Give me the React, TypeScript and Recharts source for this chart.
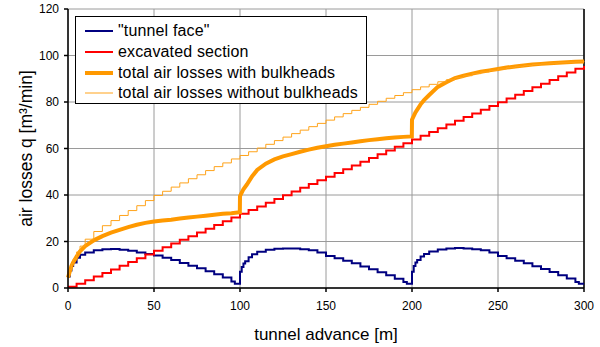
import React from 'react';
import { LineChart, Line, XAxis, YAxis, CartesianGrid, Legend, ReferenceLine, Label } from 'recharts';

// tunnel advance [m] and air losses q [m³/min]

// "tunnel face"
const faceX = [
	0, 1, 2, 3, 5, 7, 10, 15, 20, 25, 30, 35, 40, 45, 50, 55, 60, 65, 70, 75, 80, 85, 90, 95, 97,
	100, 101, 102, 103, 105, 107, 110, 115, 120, 125, 130, 135, 140, 145, 150, 155, 160, 165, 170, 175, 180, 185, 190, 195, 197,
	200, 201, 202, 203, 205, 207, 210, 215, 220, 225, 230, 235, 240, 245, 250, 255, 260, 265, 270, 275, 280, 285, 290, 295, 297, 300,
];
const faceQ = [
	5, 7.5, 9.5, 11, 13, 14.3, 15.3, 16.2, 16.7, 16.8, 16.5, 16, 15.3, 14.6, 14, 13, 12, 10.8, 9.6, 8.5, 7.2, 5.9, 4.5, 2.8, 1.8,
	7, 9, 10.5, 11.5, 13.2, 14.5, 15.6, 16.4, 16.9, 17, 17, 16.7, 16.2, 15.3, 13.8, 12.8, 11.7, 10.6, 9.3, 8.1, 6.8, 5.5, 4, 2.6, 1.8,
	7, 9.5, 11, 12, 13.5, 14.6, 15.7, 16.6, 17, 17.2, 17, 16.7, 16.2, 15.3, 13.8, 12.8, 11.7, 10.6, 9.4, 8.2, 6.9, 5.5, 4.1, 2.6, 1.8, 1.8,
];

// excavated section
const sectionX = [
	0, 5, 10, 15, 20, 25, 30, 35, 40, 45, 50, 55, 60, 65, 70, 75, 80, 85, 90, 95,
	100, 105, 110, 115, 120, 125, 130, 135, 140, 145, 150, 155, 160, 165, 170, 175, 180, 185, 190, 195,
	200, 205, 210, 215, 220, 225, 230, 235, 240, 245, 250, 255, 260, 265, 270, 275, 280, 285, 290, 295, 300,
];
const sectionQ = [
	0.5, 1.8, 3.3, 4.9, 6.5, 8, 9.6, 11.2, 12.8, 14.4, 16, 17.5, 19.1, 20.7, 22.3, 23.9, 25.5, 27.1, 28.7, 30.3,
	31.9, 33.5, 35.1, 36.7, 38.3, 39.9, 41.5, 43.1, 44.7, 46.3, 47.9, 49.5, 51.1, 52.7, 54.3, 55.9, 57.5, 59.1, 60.7, 62.3,
	63.9, 65.5, 67.1, 68.7, 70.3, 71.9, 73.5, 75.1, 76.7, 78.3, 79.9, 81.5, 83.1, 84.7, 86.3, 87.9, 89.5, 91.1, 92.7, 94.3, 95.5,
];

// total air losses with bulkheads
const withX = [
	0, 1, 2, 3, 5, 7, 10, 15, 20, 25, 30, 35, 40, 45, 50, 55, 60, 65, 70, 75, 80, 85, 90, 95, 99.9,
	100, 101, 102, 104, 107, 110, 115, 120, 125, 130, 135, 140, 145, 150, 155, 160, 165, 170, 175, 180, 185, 190, 195, 199.9,
	200, 202, 205, 207, 210, 215, 220, 225, 230, 235, 240, 245, 250, 255, 260, 265, 270, 275, 280, 285, 290, 295, 300,
];
const withQ = [
	4.5, 7, 9.5, 11, 13.5, 15.8, 18, 20.5, 22.3, 23.8, 25, 26.2, 27.2, 28, 28.6, 29, 29.4, 29.9, 30.3, 30.7, 31.1, 31.5, 31.9, 32.2, 32.6,
	39.5, 41, 42.5, 44.5, 48, 50.8, 53.5, 55.3, 56.6, 57.6, 58.6, 59.5, 60.3, 61, 61.6, 62.1, 62.6, 63.1, 63.6, 64, 64.4, 64.7, 65, 65.2,
	72.4, 75.5, 79, 80.8, 83, 86.5, 88.5, 90.3, 91.3, 92.2, 93, 93.6, 94.2, 94.8, 95.3, 95.7, 96.1, 96.4, 96.7, 96.9, 97.1, 97.3, 97.4,
];

// total air losses without bulkheads
const withoutX = [
	0, 1, 2, 3, 5, 7, 10, 15, 20, 25, 30, 35, 40, 45, 50, 55, 60, 65, 70, 75, 80, 85, 90, 95,
	100, 105, 110, 115, 120, 125, 130, 135, 140, 145, 150, 155, 160, 165, 170, 175, 180, 185, 190, 195,
	200, 205, 210, 215, 220, 225, 230, 235, 240, 245, 250, 255, 260, 265, 270, 275, 280, 285, 290, 295, 300,
];
const withoutQ = [
	5, 8, 10.5, 12.5, 15.5, 18, 21, 24.3, 26.8, 29, 31.2, 33.3, 35.4, 37.6, 39.8, 41.6, 43.4, 45.2, 47, 48.7, 50.5, 52.2, 53.8, 55.5,
	57, 58.6, 60.2, 61.8, 63.4, 64.9, 66.4, 67.9, 69.4, 70.8, 72.2, 73.6, 75, 76.4, 77.7, 79, 80.3, 81.6, 82.8, 84,
	85.3, 86.5, 87.6, 88.7, 89.6, 90.5, 91.3, 92.2, 92.9, 93.6, 94.2, 94.8, 95.3, 95.7, 96.1, 96.4, 96.7, 96.9, 97.1, 97.3, 97.6,
];

const xTicks = [0, 50, 100, 150, 200, 250, 300];
const yTicks = [0, 20, 40, 60, 80, 100, 120];

const toRows = (xs: number[], qs: number[]) => xs.map((x, i) => ({ x, q: qs[i] }));

const faceData = toRows(faceX, faceQ);
const sectionData = toRows(sectionX, sectionQ);
const withData = toRows(withX, withQ);
const withoutData = toRows(withoutX, withoutQ);

const FONT = '"Liberation Sans", Arial, sans-serif';

const legendItems = [
	{ name: '"tunnel face"', color: '#000080', width: 2 },
	{ name: 'excavated section', color: '#FF0000', width: 2 },
	{ name: 'total air losses with bulkheads', color: '#FF9900', width: 4 },
	{ name: 'total air losses without bulkheads', color: '#FFA31A', width: 1 },
];

const LegendBox = () => (
	<div
		style={{
			width: 290,
			height: 82,
			border: '1px solid #000',
			background: '#fff',
			fontFamily: FONT,
			fontSize: 16,
			color: '#000',
			boxSizing: 'content-box',
			paddingTop: 4,
		}}
	>
		{legendItems.map((it) => (
			<div key={it.name} style={{ display: 'flex', alignItems: 'center', height: 20.7, whiteSpace: 'nowrap' }}>
				<svg width={42} height={10} style={{ flex: 'none' }}>
					<line x1={9} y1={5} x2={37} y2={5} stroke={it.color} strokeWidth={it.width} />
				</svg>
				<span style={{ lineHeight: '20px', letterSpacing: 0.15 }}>{it.name}</span>
			</div>
		))}
	</div>
);

const YTitle = (props: any) => {
	const { viewBox } = props;
	const cy = viewBox.y + viewBox.height / 2;
	return (
		<text x={32} y={cy} transform={`rotate(-90, 32, ${cy})`} textAnchor="middle" fontSize={17.5} fontFamily={FONT} fill="#000">
			air losses q [m³/min]
		</text>
	);
};

const XTitle = (props: any) => {
	const { viewBox } = props;
	const cx = viewBox.x + viewBox.width / 2;
	return (
		<text x={cx} y={340} textAnchor="middle" fontSize={17} fontFamily={FONT} fill="#000">
			tunnel advance [m]
		</text>
	);
};

const App = () => {
	return (
		<div style={{ position: 'absolute', left: 0, top: 0, background: '#fff' }}>
			<LineChart width={600} height={347} margin={{ top: 9, right: 16, bottom: 0, left: 0 }}>
				<CartesianGrid stroke="#9a9a9a" strokeWidth={1} />
				<XAxis
					dataKey="x"
					type="number"
					domain={[0, 300]}
					ticks={xTicks}
					height={59}
					stroke="#000"
					strokeWidth={1.5}
					tickSize={4}
					tickMargin={9}
					tick={{ fontSize: 12, fontFamily: FONT, fill: '#000' }}
					allowDuplicatedCategory={false}
				>
					<Label content={<XTitle />} />
				</XAxis>
				<YAxis
					type="number"
					domain={[0, 120]}
					ticks={yTicks}
					width={68}
					stroke="#000"
					strokeWidth={1.5}
					tickSize={4}
					tickMargin={5}
					tick={{ fontSize: 12, fontFamily: FONT, fill: '#000' }}
				>
					<Label content={<YTitle />} />
				</YAxis>
				<ReferenceLine x={300} stroke="#000" strokeWidth={1.5} />
				<Line data={faceData} dataKey="q" type="stepAfter" stroke="#000080" strokeWidth={2} dot={false} isAnimationActive={false} />
				<Line data={sectionData} dataKey="q" type="stepAfter" stroke="#FF0000" strokeWidth={2} dot={false} isAnimationActive={false} />
				<Line data={withData} dataKey="q" type="linear" stroke="#FF9900" strokeWidth={4} dot={false} isAnimationActive={false} />
				<Line data={withoutData} dataKey="q" type="stepAfter" stroke="#FFA31A" strokeWidth={1} dot={false} isAnimationActive={false} />
				<Legend
					layout="vertical"
					align="center"
					verticalAlign="middle"
					content={<LegendBox />}
					wrapperStyle={{ position: 'absolute', left: 75, top: 16, width: 'auto', height: 'auto' }}
				/>
			</LineChart>
		</div>
	);
};

export default App;
